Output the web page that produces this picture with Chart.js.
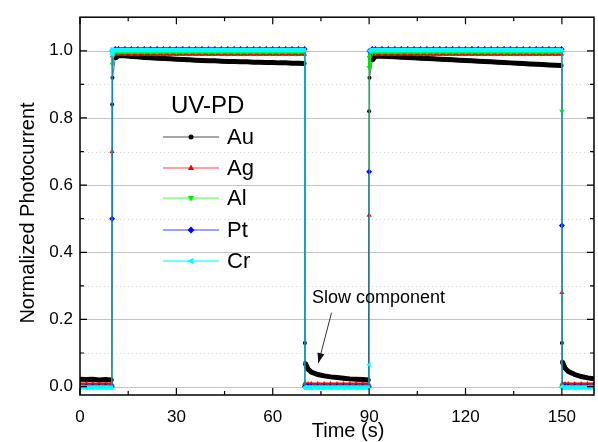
<!DOCTYPE html>
<html>
<head>
<meta charset="utf-8">
<script src="https://cdn.jsdelivr.net/npm/chart.js@4.4.1/dist/chart.umd.min.js"></script>
<style>
  html, body { margin: 0; padding: 0; background: #fff; }
  #wrap { width: 598px; height: 442px; }
</style>
</head>
<body>
<div id="wrap"><canvas id="myChart" width="598" height="442"></canvas></div>
<script>
// time (s), shared by all series
const times = [0, 2, 4, 6, 8,
  9.9, 10, 10.1, 11,
  12, 14, 16, 18, 20, 22, 24, 26, 28, 30, 32, 34, 36, 38, 40, 42, 44, 46, 48, 50, 52, 54, 56, 58, 60, 62, 64, 66, 68,
  69.9, 70, 70.1, 71,
  72, 74, 76, 78, 80, 82, 84, 86, 88,
  89.9, 90, 90.1, 91,
  92, 94, 96, 98, 100, 102, 104, 106, 108, 110, 112, 114, 116, 118, 120, 122, 124, 126, 128, 130, 132, 134, 136, 138, 140, 142, 144, 146, 148,
  149.9, 150, 150.1, 151,
  152, 154, 156, 158, 160];

const au = [0.022, 0.021, 0.022, 0.020, 0.021,
  0.020, 0.84, 0.92, 0.978,
  0.986, 0.985, 0.983, 0.982, 0.980, 0.979, 0.978, 0.977, 0.976, 0.975, 0.974, 0.973, 0.972, 0.971, 0.970, 0.970, 0.969, 0.968, 0.968, 0.967, 0.967, 0.966, 0.966, 0.965, 0.965, 0.964, 0.964, 0.963, 0.963,
  0.962, 0.13, 0.07, 0.052,
  0.043, 0.036, 0.032, 0.029, 0.027, 0.025, 0.023, 0.022, 0.021,
  0.020, 0.82, 0.92, 0.972,
  0.984, 0.984, 0.983, 0.982, 0.981, 0.980, 0.979, 0.978, 0.977, 0.976, 0.975, 0.974, 0.973, 0.972, 0.971, 0.970, 0.969, 0.968, 0.967, 0.966, 0.965, 0.964, 0.963, 0.962, 0.961, 0.960, 0.959, 0.958, 0.957,
  0.956, 0.13, 0.075, 0.055,
  0.045, 0.036, 0.030, 0.026, 0.023];

const ag = [0.008, 0.008, 0.008, 0.008, 0.008,
  0.008, 0.70, 0.985, 0.990,
  0.990, 0.990, 0.990, 0.990, 0.990, 0.990, 0.990, 0.990, 0.990, 0.990, 0.990, 0.990, 0.990, 0.990, 0.990, 0.990, 0.990, 0.990, 0.990, 0.990, 0.990, 0.990, 0.990, 0.990, 0.990, 0.990, 0.990, 0.990, 0.990,
  0.990, 0.010, 0.008, 0.008,
  0.008, 0.008, 0.008, 0.008, 0.008, 0.008, 0.008, 0.008, 0.008,
  0.008, 0.51, 0.985, 0.990,
  0.990, 0.990, 0.990, 0.990, 0.990, 0.990, 0.990, 0.990, 0.990, 0.990, 0.990, 0.990, 0.990, 0.990, 0.990, 0.990, 0.990, 0.990, 0.990, 0.990, 0.990, 0.990, 0.990, 0.990, 0.990, 0.990, 0.990, 0.990, 0.990,
  0.990, 0.28, 0.009, 0.008,
  0.008, 0.008, 0.008, 0.008, 0.008];

const al = [0.001, 0.001, 0.001, 0.001, 0.001,
  0.001, 0.96, 0.994, 0.996,
  0.996, 0.996, 0.996, 0.996, 0.996, 0.996, 0.996, 0.996, 0.996, 0.996, 0.996, 0.996, 0.996, 0.996, 0.996, 0.996, 0.996, 0.996, 0.996, 0.996, 0.996, 0.996, 0.996, 0.996, 0.996, 0.996, 0.996, 0.996, 0.996,
  0.996, 0.002, 0.001, 0.001,
  0.001, 0.001, 0.001, 0.001, 0.001, 0.001, 0.001, 0.001, 0.001,
  0.001, 0.95, 0.994, 0.996,
  0.996, 0.996, 0.996, 0.996, 0.996, 0.996, 0.996, 0.996, 0.996, 0.996, 0.996, 0.996, 0.996, 0.996, 0.996, 0.996, 0.996, 0.996, 0.996, 0.996, 0.996, 0.996, 0.996, 0.996, 0.996, 0.996, 0.996, 0.996, 0.996,
  0.996, 0.82, 0.002, 0.001,
  0.001, 0.001, 0.001, 0.001, 0.001];

const pt = [0.000, 0.000, 0.000, 0.000, 0.000,
  0.000, 0.50, 1.000, 1.005,
  1.005, 1.005, 1.005, 1.005, 1.005, 1.005, 1.005, 1.005, 1.005, 1.005, 1.005, 1.005, 1.005, 1.005, 1.005, 1.005, 1.005, 1.005, 1.005, 1.005, 1.005, 1.005, 1.005, 1.005, 1.005, 1.005, 1.005, 1.005, 1.005,
  1.005, 0.000, 0.000, 0.000,
  0.000, 0.000, 0.000, 0.000, 0.000, 0.000, 0.000, 0.000, 0.000,
  0.000, 0.64, 1.000, 1.005,
  1.005, 1.005, 1.005, 1.005, 1.005, 1.005, 1.005, 1.005, 1.005, 1.005, 1.005, 1.005, 1.005, 1.005, 1.005, 1.005, 1.005, 1.005, 1.005, 1.005, 1.005, 1.005, 1.005, 1.005, 1.005, 1.005, 1.005, 1.005, 1.005,
  1.005, 0.48, 0.000, 0.000,
  0.000, 0.000, 0.000, 0.000, 0.000];

const cr = [-0.003, -0.003, -0.003, -0.003, -0.003,
  -0.003, 0.99, 1.003, 1.002,
  1.002, 1.002, 1.002, 1.002, 1.002, 1.002, 1.002, 1.002, 1.002, 1.002, 1.002, 1.002, 1.002, 1.002, 1.002, 1.002, 1.002, 1.002, 1.002, 1.002, 1.002, 1.002, 1.002, 1.002, 1.002, 1.002, 1.002, 1.002, 1.002,
  1.002, -0.002, -0.003, -0.003,
  -0.003, -0.003, -0.003, -0.003, -0.003, -0.003, -0.003, -0.003, -0.003,
  -0.003, 0.065, 1.000, 1.002,
  1.002, 1.002, 1.002, 1.002, 1.002, 1.002, 1.002, 1.002, 1.002, 1.002, 1.002, 1.002, 1.002, 1.002, 1.002, 1.002, 1.002, 1.002, 1.002, 1.002, 1.002, 1.002, 1.002, 1.002, 1.002, 1.002, 1.002, 1.002, 1.002,
  1.002, 0.000, -0.003, -0.003,
  -0.003, -0.003, -0.003, -0.003, -0.003];

const xTicks = [0, 30, 60, 90, 120, 150];
const yTicks = [0.0, 0.2, 0.4, 0.6, 0.8, 1.0];
const legendTitle = "UV-PD";
const note = { text: "Slow component", x: 72.2, y: 0.265, fromX: 78.3, fromY: 0.22, toX: 74.2, toY: 0.07 };

const FONT = '"Liberation Sans", Arial, sans-serif';

// look of each series
const looks = [
  { label: "Au", data: au, color: "#000000", light: "rgba(0,0,0,0.5)", legend: "#8a8a8a", shape: "circle", r: 2, w: 5 },
  { label: "Ag", data: ag, color: "#ff0000", light: "rgba(255,0,0,0.45)", legend: "#ff8080", shape: "up", r: 3, w: 3 },
  { label: "Al", data: al, color: "#00ee00", light: "rgba(0,190,0,0.7)", legend: "#80ff80", shape: "down", r: 3, w: 3 },
  { label: "Pt", data: pt, color: "#0000ff", light: "rgba(0,0,255,0.55)", legend: "#8080ff", shape: "diamond", r: 3, w: 3.5 },
  { label: "Cr", data: cr, color: "#00ffff", light: "rgba(0,210,210,0.75)", legend: "#40ffff", shape: "left", r: 3, w: 4.5 }
];

function steep(ctx) {
  return Math.abs(ctx.p1.parsed.y - ctx.p0.parsed.y) > 0.05;
}

function chartStyle(shape) {
  if (shape === "circle") return ["circle", 0];
  if (shape === "up") return ["triangle", 0];
  if (shape === "down") return ["triangle", 180];
  if (shape === "diamond") return ["rectRot", 0];
  return ["triangle", -90];
}

function drawMarker(ctx, shape, x, y, r, color) {
  ctx.fillStyle = color;
  ctx.beginPath();
  if (shape === "circle") {
    ctx.arc(x, y, r, 0, Math.PI * 2);
  } else if (shape === "up") {
    ctx.moveTo(x, y - r); ctx.lineTo(x + r * 0.9, y + r * 0.6); ctx.lineTo(x - r * 0.9, y + r * 0.6);
  } else if (shape === "down") {
    ctx.moveTo(x, y + r); ctx.lineTo(x + r * 0.9, y - r * 0.6); ctx.lineTo(x - r * 0.9, y - r * 0.6);
  } else if (shape === "diamond") {
    ctx.moveTo(x, y - r); ctx.lineTo(x + r, y); ctx.lineTo(x, y + r); ctx.lineTo(x - r, y);
  } else {
    ctx.moveTo(x - r, y); ctx.lineTo(x + r * 0.6, y - r * 0.9); ctx.lineTo(x + r * 0.6, y + r * 0.9);
  }
  ctx.closePath();
  ctx.fill();
}

let datasets = looks.map(function (s, i) {
  const st = chartStyle(s.shape);
  return {
    label: s.label,
    data: times.map((t, k) => ({ x: t, y: s.data[k] })),
    order: looks.length - i,
    borderColor: s.color,
    backgroundColor: s.color,
    borderWidth: 1,
    pointStyle: st[0],
    rotation: st[1],
    pointRadius: s.r,
    pointBorderWidth: 0,
    pointBackgroundColor: s.color,
    segment: {
      borderWidth: ctx => steep(ctx) ? 1.2 : s.w,
      borderColor: ctx => steep(ctx) ? s.light : s.color
    }
  };
});

// grid lines under the data, frame / ticks / texts on top
const gridPlugin = {
  id: "gridPlugin",
  beforeDatasetsDraw(chart) {
    const { ctx, chartArea: a, scales: { y } } = chart;
    ctx.save();
    ctx.lineWidth = 1;
    for (let i = 0; i < yTicks.length; i++) {
      let py = Math.round(y.getPixelForValue(yTicks[i])) + 0.5;
      ctx.strokeStyle = "#c4c4c4";
      ctx.setLineDash([]);
      ctx.beginPath(); ctx.moveTo(a.left, py); ctx.lineTo(a.right, py); ctx.stroke();
      if (i < yTicks.length - 1) {
        let my = Math.round(y.getPixelForValue((yTicks[i] + yTicks[i + 1]) / 2)) + 0.5;
        ctx.strokeStyle = "#d4d4d4";
        ctx.setLineDash([1, 3]);
        ctx.beginPath(); ctx.moveTo(a.left, my); ctx.lineTo(a.right, my); ctx.stroke();
      }
    }
    ctx.restore();
  },
  afterDraw(chart) {
    const { ctx, chartArea: a, scales: { x, y } } = chart;
    ctx.save();
    // frame
    ctx.strokeStyle = "#000";
    ctx.lineWidth = 1.5;
    ctx.setLineDash([]);
    ctx.strokeRect(a.left, a.top, a.right - a.left, a.bottom - a.top);
    // y ticks (left and right, pointing in)
    ctx.lineWidth = 1.2;
    ctx.beginPath();
    for (let i = 0; i < yTicks.length; i++) {
      let py = y.getPixelForValue(yTicks[i]);
      ctx.moveTo(a.left, py); ctx.lineTo(a.left + 7, py);
      ctx.moveTo(a.right, py); ctx.lineTo(a.right - 7, py);
      if (i < yTicks.length - 1) {
        let my = y.getPixelForValue((yTicks[i] + yTicks[i + 1]) / 2);
        ctx.moveTo(a.left, my); ctx.lineTo(a.left + 4, my);
        ctx.moveTo(a.right, my); ctx.lineTo(a.right - 4, my);
      }
    }
    // x ticks (bottom and top, pointing in)
    for (let i = 0; i < xTicks.length; i++) {
      let px = x.getPixelForValue(xTicks[i]);
      ctx.moveTo(px, a.bottom); ctx.lineTo(px, a.bottom - 7);
      ctx.moveTo(px, a.top); ctx.lineTo(px, a.top + 7);
      let mid = xTicks[i] + (xTicks[1] - xTicks[0]) / 2;
      if (mid < x.max) {
        let mx = x.getPixelForValue(mid);
        ctx.moveTo(mx, a.bottom); ctx.lineTo(mx, a.bottom - 4);
        ctx.moveTo(mx, a.top); ctx.lineTo(mx, a.top + 4);
      }
    }
    ctx.stroke();

    // axis titles
    ctx.fillStyle = "#000";
    ctx.font = "20px " + FONT;
    ctx.textAlign = "center";
    ctx.textBaseline = "middle";
    ctx.fillText("Time (s)", 348, 431);
    ctx.save();
    ctx.translate(28, 213);
    ctx.rotate(-Math.PI / 2);
    ctx.fillText("Normalized Photocurrent", 0, 0);
    ctx.restore();

    // legend
    ctx.textAlign = "left";
    ctx.font = "24px " + FONT;
    ctx.fillText(legendTitle, 171, 106);
    ctx.font = "22px " + FONT;
    const rows = [137, 168, 198, 230, 261];
    looks.forEach(function (s, i) {
      ctx.strokeStyle = s.legend;
      ctx.lineWidth = 1.5;
      ctx.beginPath(); ctx.moveTo(163, rows[i]); ctx.lineTo(219, rows[i]); ctx.stroke();
      drawMarker(ctx, s.shape, 191, rows[i], s.shape === "circle" ? 2.5 : 3.5, s.color);
      ctx.fillStyle = "#000";
      ctx.fillText(s.label, 227, rows[i] + 1);
    });

    // annotation with arrow
    ctx.font = "18px " + FONT;
    ctx.fillStyle = "#000";
    ctx.fillText(note.text, x.getPixelForValue(note.x), y.getPixelForValue(note.y));
    let x0 = x.getPixelForValue(note.fromX), y0 = y.getPixelForValue(note.fromY);
    let x1 = x.getPixelForValue(note.toX), y1 = y.getPixelForValue(note.toY);
    ctx.strokeStyle = "#333";
    ctx.lineWidth = 1;
    ctx.beginPath(); ctx.moveTo(x0, y0); ctx.lineTo(x1, y1); ctx.stroke();
    let ang = Math.atan2(y1 - y0, x1 - x0);
    ctx.fillStyle = "#111";
    ctx.beginPath();
    ctx.moveTo(x1, y1);
    ctx.lineTo(x1 - 10 * Math.cos(ang) + 3.5 * Math.sin(ang), y1 - 10 * Math.sin(ang) - 3.5 * Math.cos(ang));
    ctx.lineTo(x1 - 10 * Math.cos(ang) - 3.5 * Math.sin(ang), y1 - 10 * Math.sin(ang) + 3.5 * Math.cos(ang));
    ctx.closePath();
    ctx.fill();
    ctx.restore();
  }
};

new Chart(document.getElementById("myChart"), {
  type: "line",
  data: { datasets: datasets },
  options: {
    responsive: false,
    animation: false,
    layout: { padding: { left: 0, right: 1, top: 12, bottom: 0 } },
    plugins: { legend: { display: false }, tooltip: { enabled: false } },
    scales: {
      x: {
        type: "linear",
        min: 0,
        max: 160,
        afterFit: s => { s.height = 47; },
        afterBuildTicks: s => { s.ticks = xTicks.map(v => ({ value: v })); },
        grid: { display: false, drawTicks: false },
        border: { display: false },
        ticks: { color: "#000", font: { family: FONT, size: 17 }, padding: 12, maxRotation: 0, callback: v => String(v) }
      },
      y: {
        min: -0.025,
        max: 1.1,
        afterFit: s => { s.width = 80; },
        afterBuildTicks: s => { s.ticks = yTicks.map(v => ({ value: v })); },
        grid: { display: false, drawTicks: false },
        border: { display: false },
        ticks: { color: "#000", font: { family: FONT, size: 17 }, padding: 7, callback: v => v.toFixed(1) }
      }
    }
  },
  plugins: [gridPlugin]
});
</script>
</body>
</html>
